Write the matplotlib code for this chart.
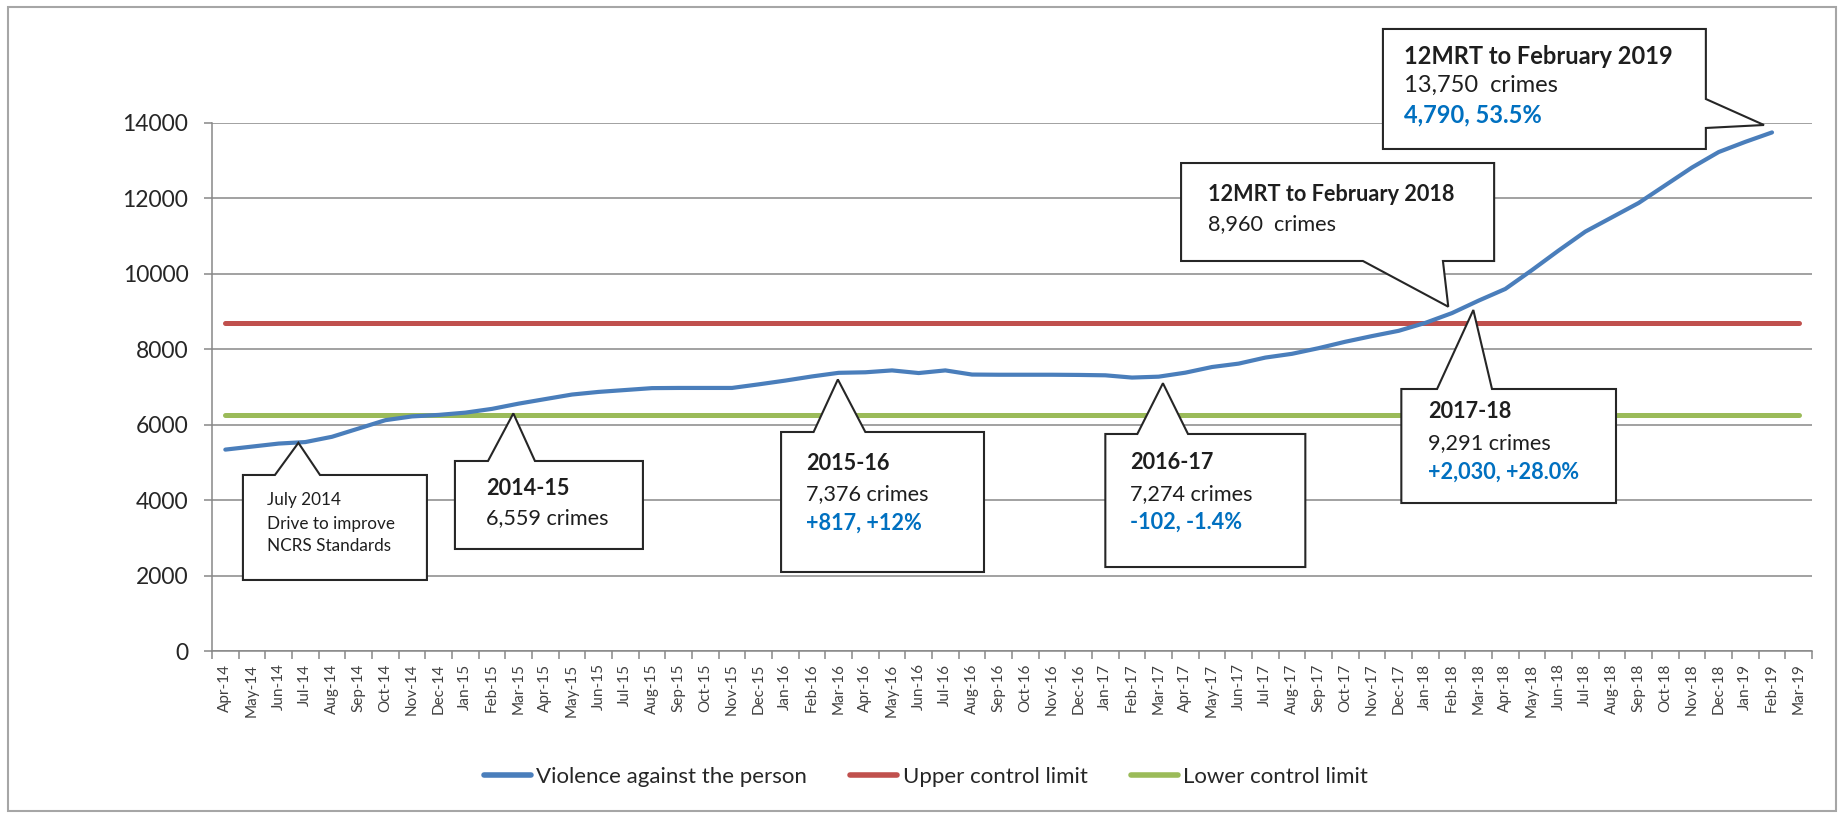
"""
plot.py
Violence against the person - 12 month rolling total with control limits
and annotated callouts (Excel-style chart recreated in matplotlib).
"""

import matplotlib
matplotlib.use("Agg")
import matplotlib.pyplot as plt
from matplotlib.patches import Polygon, Rectangle
import pandas as pd

# ------------------------------------------------------------------ #
# Data
# ------------------------------------------------------------------ #
months = list(pd.date_range("2014-04-01", "2019-03-01", freq="MS").strftime("%b-%y"))

vap_12mrt = [5340, 5420, 5500, 5540, 5680, 5900, 6120, 6220, 6260, 6320, 6420, 6559,
             6680, 6800, 6870, 6920, 6970, 6975, 6975, 6975, 7070, 7170, 7280, 7376,
             7390, 7440, 7370, 7440, 7330, 7325, 7325, 7325, 7320, 7310, 7250, 7274,
             7380, 7530, 7620, 7780, 7880, 8030, 8200, 8350, 8490, 8700, 8960, 9291,
             9600, 10100, 10620, 11120, 11500, 11880, 12350, 12820, 13230, 13500, 13750]

upper_limit = [8700] * len(months)
lower_limit = [6260] * len(months)

series_names = ["Violence against the person", "Upper control limit", "Lower control limit"]
series_colors = ["#4A7EBB", "#C0504D", "#9BBB59"]

# callouts: (text lines, box x0, x1, y0, y1, tail side, base a, base b, tip)
callouts = [
    (["July 2014", "Drive to improve", "NCRS Standards"],
     0.66, 7.56, 1883, 4667, "top", 1.86, 3.55, (2.74, 5520)),
    (["2014-15", "6,559 crimes"],
     8.61, 15.66, 2705, 5038, "top", 9.85, 11.61, (10.80, 6300)),
    (["2015-16", "7,376 crimes", "+817, +12%"],
     20.84, 28.45, 2095, 5807, "top", 22.06, 24.0, (22.97, 7200)),
    (["2016-17", "7,274 crimes", "-102, -1.4%"],
     33.0, 40.5, 2227, 5754, "top", 34.2, 36.1, (35.16, 7100)),
    (["2017-18", "9,291 crimes", "+2,030, +28.0%"],
     44.1, 52.15, 3924, 6947, "top", 45.44, 47.5, (46.8, 9042)),
    (["12MRT to February 2018", "8,960  crimes"],
     35.84, 47.58, 10341, 12939, "bottom", 42.66, 45.66, (45.86, 9129)),
    (["12MRT to February 2019", "13,750  crimes", "4,790, 53.5%"],
     43.41, 55.52, 13311, 16493, "right", 14636, 13868, (57.7, 13947)),
]
# text anchor (x, y of each line) and font size inside the boxes
callout_text_pos = [
    (1.56, [4004, 3367, 2784], 12.3),
    (9.77, [4296, 3527], 15.6),
    (21.77, [4972, 4163, 3394], 15.6),
    (33.94, [4985, 4163, 3420], 15.6),
    (45.1, [6350, 5515, 4733], 15.6),
    (36.85, [12091, 11325], 15.6),
    (44.2, [15758, 15006, 14211], 17.0),
]

FONT = ["Lato", "DejaVu Sans"]
TXT_DARK = "#1E1E1E"
TXT_BLUE = "#0070C0"
GRID = "#878787"

plt.rcParams["font.family"] = FONT


# ------------------------------------------------------------------ #
# Callout shape: rectangle with a wedge tail pointing at `tip`
# ------------------------------------------------------------------ #
def callout_vertices(x0, x1, y0, y1, side, a, b, tip):
    if side == "top":
        return [(x0, y0), (x0, y1), (a, y1), tip, (b, y1), (x1, y1), (x1, y0)]
    if side == "bottom":
        return [(x0, y1), (x1, y1), (x1, y0), (b, y0), tip, (a, y0), (x0, y0)]
    # right
    return [(x0, y0), (x0, y1), (x1, y1), (x1, a), tip, (x1, b), (x1, y0)]


fig = plt.figure(figsize=(18.41, 8.16), dpi=100)
ax = fig.add_axes([212 / 1841, 165 / 816, 1600 / 1841, 528 / 816])

xs = list(range(len(months)))
ax.plot(xs, upper_limit, color=series_colors[1], linewidth=3.6,
        solid_capstyle="round", zorder=3, label=series_names[1])
ax.plot(xs, lower_limit, color=series_colors[2], linewidth=3.6,
        solid_capstyle="round", zorder=3, label=series_names[2])
ax.plot(xs[:len(vap_12mrt)], vap_12mrt, color=series_colors[0], linewidth=3.0,
        solid_capstyle="round", solid_joinstyle="round", zorder=4, label=series_names[0])

ax.set_xlim(-0.5, len(months) - 0.5)
ax.set_ylim(0, 14000)
ax.set_yticks(range(0, 14001, 2000))
ax.set_yticklabels([str(v) for v in range(0, 14001, 2000)])

ax.set_xticks(xs)
ax.set_xticklabels(months, rotation=90, fontsize=11, color="#404040")
ax.set_xticks([x - 0.5 for x in range(len(months) + 1)], minor=True)
ax.tick_params(axis="x", which="major", length=0, pad=9)
ax.tick_params(axis="x", which="minor", length=6, width=1.1, color=GRID, direction="out")
ax.tick_params(axis="y", length=6, width=1.1, color=GRID, labelsize=16.5,
               labelcolor="#262626", pad=11)

ax.grid(axis="y", color=GRID, linewidth=1.1, zorder=0)
ax.set_axisbelow(True)
for s in ("top", "right"):
    ax.spines[s].set_visible(False)
for s in ("left", "bottom"):
    ax.spines[s].set_color(GRID)
    ax.spines[s].set_linewidth(1.1)

# ------------------------------------------------------------------ #
# Callouts
# ------------------------------------------------------------------ #
for i, (lines, x0, x1, y0, y1, side, a, b, tip) in enumerate(callouts):
    poly = Polygon(callout_vertices(x0, x1, y0, y1, side, a, b, tip), closed=True,
                   facecolor="white", edgecolor="#262626", linewidth=1.5,
                   joinstyle="miter", clip_on=False, zorder=6)
    ax.add_patch(poly)
    tx, tys, fsize = callout_text_pos[i]
    for j, (line, ty) in enumerate(zip(lines, tys)):
        if i == 0:
            ax.text(tx, ty, line, fontsize=fsize, color=TXT_DARK, va="center",
                    ha="left", zorder=7, clip_on=False)
            continue
        weight = "bold" if j in (0, 2) else "normal"
        color = TXT_BLUE if j == 2 else TXT_DARK
        ax.text(tx, ty, line, fontsize=fsize, color=color, fontweight=weight,
                va="center", ha="left", zorder=7, clip_on=False)

# ------------------------------------------------------------------ #
# Legend and chart border
# ------------------------------------------------------------------ #
handles, labels = ax.get_legend_handles_labels()
order = [2, 0, 1]
leg = fig.legend([handles[k] for k in order], [labels[k] for k in order],
                 loc="center", bbox_to_anchor=(0.503, 0.048), ncol=3, frameon=False,
                 fontsize=16, handlelength=2.1, handletextpad=0.25, columnspacing=1.95)
for t in leg.get_texts():
    t.set_color("#262626")
for h in leg.legend_handles:
    h.set_linewidth(4)

fig.patches.append(Rectangle((8 / 1841, 5 / 816), 1828 / 1841, 804 / 816,
                             transform=fig.transFigure, fill=False,
                             edgecolor="#A6A6A6", linewidth=1.5))

fig.savefig("out.png", dpi=100)
